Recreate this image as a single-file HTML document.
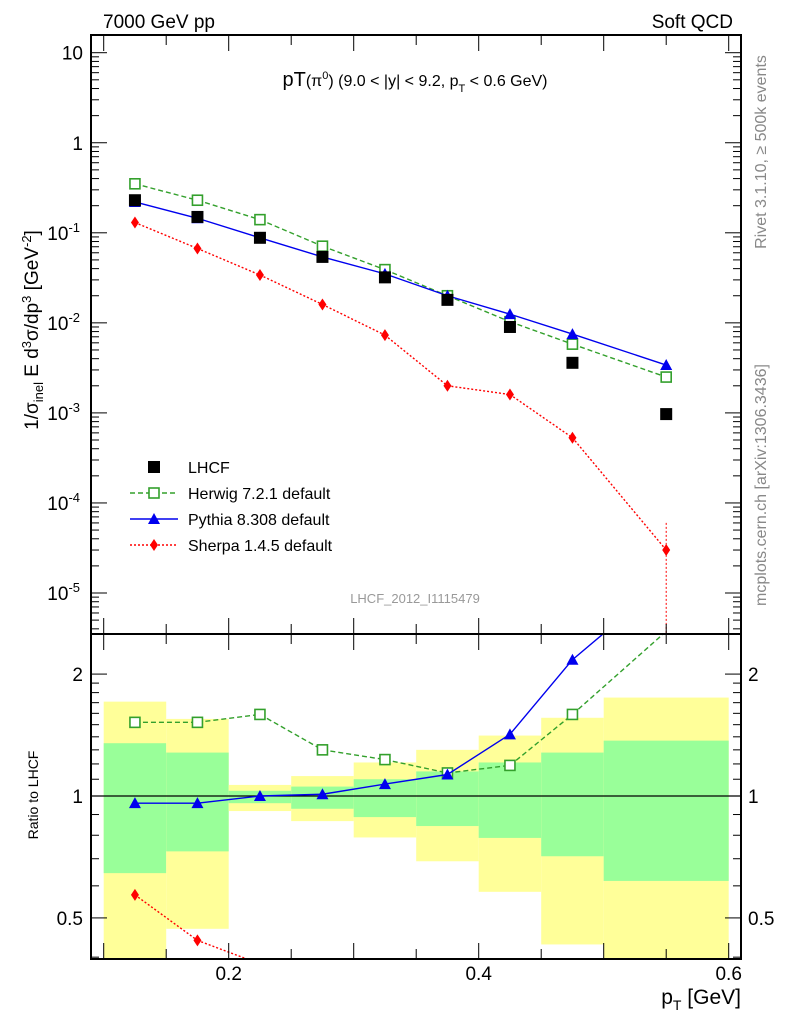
<!DOCTYPE html>
<html><head><meta charset="utf-8"><style>
html,body{margin:0;background:#fff;overflow:hidden;width:786px;height:1024px;}
svg{display:block;font-family:"Liberation Sans",sans-serif;}
</style></head><body>
<svg id="c" width="786" height="1024" viewBox="0 0 786 1024" xmlns="http://www.w3.org/2000/svg">
<text x="103" y="28" font-size="19">7000 GeV pp</text>
<text x="733" y="28" font-size="19" text-anchor="end">Soft QCD</text>
<text x="415" y="86" font-size="20" text-anchor="middle">pT<tspan font-size="16">(π</tspan><tspan font-size="11" dy="-7">0</tspan><tspan font-size="16" dy="7">) (9.0 &lt; |y| &lt; 9.2, p</tspan><tspan font-size="11" dy="6">T</tspan><tspan font-size="16" dy="-6"> &lt; 0.6 GeV)</tspan></text>
<text transform="translate(38,330) rotate(-90)" font-size="19" text-anchor="middle">1/σ<tspan font-size="13" dy="5">inel</tspan><tspan dy="-5"> E d</tspan><tspan font-size="13" dy="-7">3</tspan><tspan dy="7">σ/dp</tspan><tspan font-size="13" dy="-7">3</tspan><tspan dy="7"> [GeV</tspan><tspan font-size="13" dy="-7">-2</tspan><tspan dy="7">]</tspan></text>
<text transform="translate(766,152) rotate(-90)" font-size="16" fill="#888" text-anchor="middle">Rivet 3.1.10, ≥ 500k events</text>
<text transform="translate(766,485) rotate(-90)" font-size="16" fill="#888" text-anchor="middle">mcplots.cern.ch [arXiv:1306.3436]</text>
<text x="415" y="603" font-size="13" fill="#999" text-anchor="middle">LHCF_2012_I1115479</text>
<text transform="translate(38,795) rotate(-90)" font-size="14" text-anchor="middle">Ratio to LHCF</text>
<text x="741" y="1004" font-size="21" text-anchor="end">p<tspan font-size="14" dy="6">T</tspan><tspan dy="-6"> [GeV]</tspan></text>
<g id="g"></g>
</svg>
<script>
const xCenters=[0.125,0.175,0.225,0.275,0.325,0.375,0.425,0.475,0.55];
const binEdges=[0.1,0.15,0.2,0.25,0.3,0.35,0.4,0.45,0.5,0.6];
const lhcf=[0.23,0.15,0.088,0.054,0.032,0.018,0.009,0.0036,0.00097];
const herwig=[0.35,0.23,0.14,0.071,0.039,0.020,0.0103,0.0058,0.0025];
const pythia=[0.22,0.145,0.088,0.054,0.035,0.020,0.0125,0.0075,0.0034];
const sherpa=[0.13,0.067,0.034,0.016,0.0073,0.0020,0.0016,0.00053,0.00003];
const herwigRatio=[1.52,1.52,1.59,1.30,1.23,1.14,1.19,1.59,2.55];
const pythiaRatio=[0.96,0.96,1.0,1.01,1.07,1.13,1.42,2.17,3.4];
const sherpaRatio=[0.57,0.44,0.385,0.30,0.23,0.11,0.18,0.15,0.03];
const yellowHi=[1.71,1.55,1.065,1.12,1.21,1.30,1.41,1.56,1.75];
const yellowLo=[0.3,0.47,0.918,0.867,0.79,0.69,0.58,0.43,0.3];
const greenHi=[1.35,1.28,1.03,1.055,1.1,1.15,1.21,1.28,1.37];
const greenLo=[0.645,0.73,0.96,0.93,0.887,0.843,0.788,0.71,0.617];
const xTicks=[0.2,0.4,0.6];
const mainTicks=[1,0,-1,-2,-3,-4,-5];
const ratioTicks=[2,1,0.5];

const NS="http://www.w3.org/2000/svg",G=document.getElementById('g');
const L=91,R=741,T=35,M=634,B=959;
const X=v=>103.7+(v-0.1)*1250;
const Y=v=>52.7+(1-Math.log10(v))*90.05;
const YR=v=>796-Math.log10(v)*405;
function el(t,a,p){const e=document.createElementNS(NS,t);for(const k in a)e.setAttribute(k,a[k]);(p||G).appendChild(e);return e;}
const clampY=(y,lo,hi)=>Math.max(lo,Math.min(hi,y));
for(let i=0;i<yellowHi.length;i++){
 const x0=X(binEdges[i]),x1=X(binEdges[i+1]);
 const yt=clampY(YR(yellowHi[i]),M,B),yb=clampY(YR(yellowLo[i]),M,B);
 const y=el('rect',{x:x0,y:yt,width:x1-x0,height:yb-yt,fill:'#ffff99'});
 
 
 const gt=clampY(YR(greenHi[i]),M,B),gb=clampY(YR(greenLo[i]),M,B);
 const g=el('rect',{x:x0,y:gt,width:x1-x0,height:gb-gt,fill:'#99ff99'});
 
 
}
const one=el('line',{x1:L,x2:R,y1:YR(1),y2:YR(1),stroke:'#000','stroke-width':1.2});


function marker(type,x,y,col){
 let m;
 if(type==='sq')m=el('rect',{x:x-5,y:y-5,width:10,height:10,fill:'#fff',stroke:col,'stroke-width':1.6});
 else if(type==='fsq')m=el('rect',{x:x-6,y:y-6,width:12,height:12,fill:col});
 else if(type==='tri')m=el('path',{d:`M${x},${y-6}L${x+6},${y+5}L${x-6},${y+5}Z`,fill:col});
 else m=el('path',{d:`M${x},${y-6}L${x+4},${y}L${x},${y+6}L${x-4},${y}Z`,fill:col});
 return m;
}
// clip a segment to y range [lo,hi]
function clipSeg(x1,y1,x2,y2,lo,hi){
 let t0=0,t1=1;const dy=y2-y1;
 if(dy===0){if(y1<lo||y1>hi)return null;}
 else{let ta=(lo-y1)/dy,tb=(hi-y1)/dy;if(ta>tb)[ta,tb]=[tb,ta];t0=Math.max(t0,ta);t1=Math.min(t1,tb);if(t0>=t1)return null;}
 return [x1+(x2-x1)*t0,y1+dy*t0,x1+(x2-x1)*t1,y1+dy*t1];
}
function series(vals,yf,col,dash,type,name,lo,hi){
 let d='';
 for(let i=0;i<vals.length-1;i++){
  const s=clipSeg(X(xCenters[i]),yf(vals[i]),X(xCenters[i+1]),yf(vals[i+1]),lo,hi);
  if(s)d+=`M${s[0]},${s[1]}L${s[2]},${s[3]}`;
 }
 const pl=el('path',{d:d,fill:'none',stroke:col,'stroke-width':1.4,'stroke-dasharray':dash});
 
 
 vals.forEach((v,i)=>{const y=yf(v);if(y<lo||y>hi)return;const m=marker(type,X(xCenters[i]),y,col);
  
  });
}
series(herwigRatio,YR,'#33a02c','5,3','sq','herwig-ratio',M,B);
series(pythiaRatio,YR,'#0000ee','','tri','pythia-ratio',M,B);
series(sherpaRatio,YR,'#ff0000','2,2','dia','sherpa-ratio',M,B);
series(herwig,Y,'#33a02c','5,3','sq','herwig',T,M);
series(pythia,Y,'#0000ee','','tri','pythia',T,M);
series(sherpa,Y,'#ff0000','2,2','dia','sherpa',T,M);
const eb=el('line',{x1:X(0.55),x2:X(0.55),y1:Y(0.00006),y2:M,stroke:'#f00','stroke-dasharray':'2,2'});


lhcf.forEach((v,i)=>{const m=marker('fsq',X(xCenters[i]),Y(v),'#000');
 
 });
for(const [a,b,n] of [[T,M,'main-plot-frame'],[M,B,'ratio-plot-frame']]){
 const f=el('rect',{x:L,y:a,width:R-L,height:b-a,fill:'none',stroke:'#000','stroke-width':2});
 
 
}
for(let k=9;k<=61;k++){const v=k/100;const x=X(v);
 const maj=k%10===0, mid=k%5===0;const len=maj?16:(mid?10:0);if(!len)continue;
 for(const [a,b] of [[T,M],[M,B]]){el('line',{x1:x,x2:x,y1:a,y2:a+len,stroke:'#000'});el('line',{x1:x,x2:x,y1:b,y2:b-len,stroke:'#000'});}
}
xTicks.forEach(v=>{const t=el('text',{x:X(v),y:980,'font-size':19,'text-anchor':'middle'});t.textContent=v.toFixed(1);
 
 });
for(let d=-6;d<=1;d++)for(let m=1;m<10;m++){const v=m*Math.pow(10,d);const y=Y(v);if(y<T||y>M)continue;
 const len=m===1?16:8;el('line',{x1:L,x2:L+len,y1:y,y2:y,stroke:'#000'});el('line',{x1:R,x2:R-len,y1:y,y2:y,stroke:'#000'});}
mainTicks.forEach(e=>{const y=Y(Math.pow(10,e));
 const t=el('text',{x:e<0?80:83,y:y+7,'font-size':19,'text-anchor':'end'});
 
 
 if(e===1)t.textContent='10';else if(e===0)t.textContent='1';
 else{t.textContent='10';const s=el('tspan',{'font-size':13,dy:-8},t);s.textContent=String(e);}
});
[0.4,0.5,0.6,0.7,0.8,0.9,1,1.1,1.2,1.3,1.4,1.5,1.6,1.7,1.8,1.9,2].forEach(v=>{const y=YR(v);if(y<M||y>B)return;
 const len=(v===0.5||v===1||v===2)?16:8;el('line',{x1:L,x2:L+len,y1:y,y2:y,stroke:'#000'});el('line',{x1:R,x2:R-len,y1:y,y2:y,stroke:'#000'});});
ratioTicks.forEach(v=>{for(const [x,a] of [[83,'end'],[748,'start']]){const t=el('text',{x:x,y:YR(v)+7,'font-size':19,'text-anchor':a});t.textContent=String(v);
 
 }});
const leg=[['fsq','#000','','LHCF'],['sq','#33a02c','5,3','Herwig 7.2.1 default'],['tri','#0000ee','','Pythia 8.308 default'],['dia','#ff0000','2,2','Sherpa 1.4.5 default']];
leg.forEach((l,i)=>{const y=467+i*26;
 if(i>0){el('line',{x1:130,x2:178,y1:y,y2:y,stroke:l[1],'stroke-width':1.4,'stroke-dasharray':l[2]});}
 const m=marker(l[0],154,y,l[1]);
 
 
 const t=el('text',{x:188,y:y+6,'font-size':16});t.textContent=l[3];
 
 
});
</script>
</body></html>
